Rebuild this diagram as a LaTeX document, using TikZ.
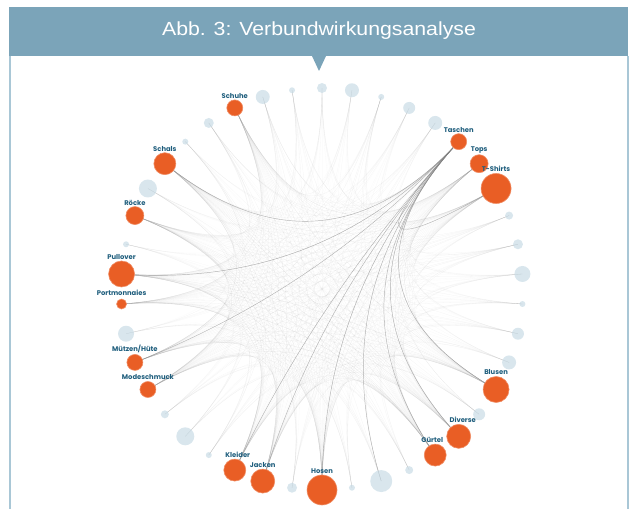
\documentclass[tikz,border=0pt]{standalone}
\usepackage{fontspec}
\setmainfont{Liberation Sans}
\newfontfamily\lblfont{Poppins}
\usetikzlibrary{calc,backgrounds}
\definecolor{kopfblau}{HTML}{7BA4B9}
\definecolor{rahmenblau}{HTML}{A9C7D6}
\definecolor{artikelrot}{HTML}{E95E25}
\definecolor{restgrau}{HTML}{C9DCE6}
\definecolor{schrift}{HTML}{1E5D7C}
\tikzset{
  artikel/.style={circle,inner sep=0pt,fill=artikelrot,draw=artikelrot!70!white,line width=0.6pt},
  rest/.style={circle,inner sep=0pt,fill=restgrau,opacity=0.7},
  lbl/.style={text=schrift,font=\lblfont\bfseries\fontsize{6.8}{7}\selectfont,inner sep=1pt},
  kante/.style={draw=black!40,line width=0.3pt},
  dunkel/.style={draw=black!50,line width=0.45pt,opacity=0.55}
}
\begin{document}
\begin{tikzpicture}[x=1pt,y=1pt]
  \useasboundingbox (0,0) rectangle (635,509);
  % Kopfzeile
  \fill[kopfblau] (9,453) rectangle (628,502);
  \fill[kopfblau] (312,453)--(326,453)--(319,438)--cycle;
  \node[text=white,font=\fontsize{19}{19}\selectfont] (titel) at (319,478) {\scalebox{1.12}[1]{Abb. 3: Verbundwirkungsanalyse}};
  \draw[rahmenblau,line width=1.6pt] (10,0)--(10,453);
  \draw[rahmenblau,line width=1.6pt] (628,0)--(628,453);
  \begin{scope}[shift={(322,220)}]
    \coordinate (m) at (0,0);
    \node[rest,minimum size=10pt] (n0) at ({90-0*360/42}:201) {};
    \node[rest,minimum size=14pt] (n1) at ({90-1*360/42}:201) {};
    \node[rest,minimum size=6pt] (n2) at ({90-2*360/42}:201) {};
    \node[rest,minimum size=12pt] (n3) at ({90-3*360/42}:201) {};
    \node[rest,minimum size=14pt] (n4) at ({90-4*360/42}:201) {};
    \node[artikel,minimum size=16pt,label={[lbl]above:Taschen}] (n5) at ({90-5*360/42}:201) {};
    \node[artikel,minimum size=18pt,label={[lbl]above:Tops}] (n6) at ({90-6*360/42}:201) {};
    \node[artikel,minimum size=30pt,label={[lbl]above:T-Shirts}] (n7) at ({90-7*360/42}:201) {};
    \node[rest,minimum size=8pt] (n8) at ({90-8*360/42}:201) {};
    \node[rest,minimum size=10pt] (n9) at ({90-9*360/42}:201) {};
    \node[rest,minimum size=16pt] (n10) at ({90-10*360/42}:201) {};
    \node[rest,minimum size=6pt] (n11) at ({90-11*360/42}:201) {};
    \node[rest,minimum size=12pt] (n12) at ({90-12*360/42}:201) {};
    \node[rest,minimum size=14pt] (n13) at ({90-13*360/42}:201) {};
    \node[artikel,minimum size=26pt,label={[lbl]above:Blusen}] (n14) at ({90-14*360/42}:201) {};
    \node[rest,minimum size=12pt] (n15) at ({90-15*360/42}:201) {};
    \node[artikel,minimum size=24pt,label={[lbl,xshift=4pt]above:Diverse}] (n16) at ({90-16*360/42}:201) {};
    \node[artikel,minimum size=22pt,label={[lbl,xshift=-3pt]above:Gürtel}] (n17) at ({90-17*360/42}:201) {};
    \node[rest,minimum size=8pt] (n18) at ({90-18*360/42}:201) {};
    \node[rest,minimum size=22pt] (n19) at ({90-19*360/42}:201) {};
    \node[rest,minimum size=6pt] (n20) at ({90-20*360/42}:201) {};
    \node[artikel,minimum size=30pt,label={[lbl]above:Hosen}] (n21) at ({90-21*360/42}:201) {};
    \node[rest,minimum size=10pt] (n22) at ({90-22*360/42}:201) {};
    \node[artikel,minimum size=24pt,label={[lbl]above:Jacken}] (n23) at ({90-23*360/42}:201) {};
    \node[artikel,minimum size=22pt,label={[lbl,xshift=3pt]above:Kleider}] (n24) at ({90-24*360/42}:201) {};
    \node[rest,minimum size=6pt] (n25) at ({90-25*360/42}:201) {};
    \node[rest,minimum size=18pt] (n26) at ({90-26*360/42}:201) {};
    \node[rest,minimum size=8pt] (n27) at ({90-27*360/42}:201) {};
    \node[artikel,minimum size=16pt,label={[lbl]above:Modeschmuck}] (n28) at ({90-28*360/42}:201) {};
    \node[artikel,minimum size=16pt,label={[lbl]above:Mützen/Hüte}] (n29) at ({90-29*360/42}:201) {};
    \node[rest,minimum size=16pt] (n30) at ({90-30*360/42}:201) {};
    \node[artikel,minimum size=10pt,label={[lbl,label distance=2pt]above:Portmonnaies}] (n31) at ({90-31*360/42}:201) {};
    \node[artikel,minimum size=26pt,label={[lbl]above:Pullover}] (n32) at ({90-32*360/42}:201) {};
    \node[rest,minimum size=6pt] (n33) at ({90-33*360/42}:201) {};
    \node[artikel,minimum size=18pt,label={[lbl]above:Röcke}] (n34) at ({90-34*360/42}:201) {};
    \node[rest,minimum size=18pt] (n35) at ({90-35*360/42}:201) {};
    \node[artikel,minimum size=22pt,label={[lbl]above:Schals}] (n36) at ({90-36*360/42}:201) {};
    \node[rest,minimum size=6pt] (n37) at ({90-37*360/42}:201) {};
    \node[rest,minimum size=10pt] (n38) at ({90-38*360/42}:201) {};
    \node[artikel,minimum size=16pt,label={[lbl]above:Schuhe}] (n39) at ({90-39*360/42}:201) {};
    \node[rest,minimum size=14pt] (n40) at ({90-40*360/42}:201) {};
    \node[rest,minimum size=6pt] (n41) at ({90-41*360/42}:201) {};
    \begin{scope}[on background layer]
      \pgfmathsetseed{4711}
      \foreach \i in {5,6,7,14,16,17,21,23,24,28,29,31,32,34,36,39}{
        \foreach \j in {0,...,41}{
          \pgfmathtruncatemacro\d{min(abs(\j-\i),42-abs(\j-\i))}
          \pgfmathsetmacro\op{0.02+0.1*rnd}
          \ifnum\d>3
            \draw[kante,opacity=\op] (n\i.center) .. controls ($(n\i.center)!0.667!(m)$) and ($(n\j.center)!0.667!(m)$) .. (n\j.center);
          \fi
        }}
      % Taschen
      \foreach \j in {7,14,16,17,19,21,23,24,29,32,36}
        \draw[dunkel] (n5.center) .. controls ($(n5.center)!0.667!(m)$) and ($(n\j.center)!0.667!(m)$) .. (n\j.center);
    \end{scope}
  \end{scope}
\end{tikzpicture}
\end{document}
